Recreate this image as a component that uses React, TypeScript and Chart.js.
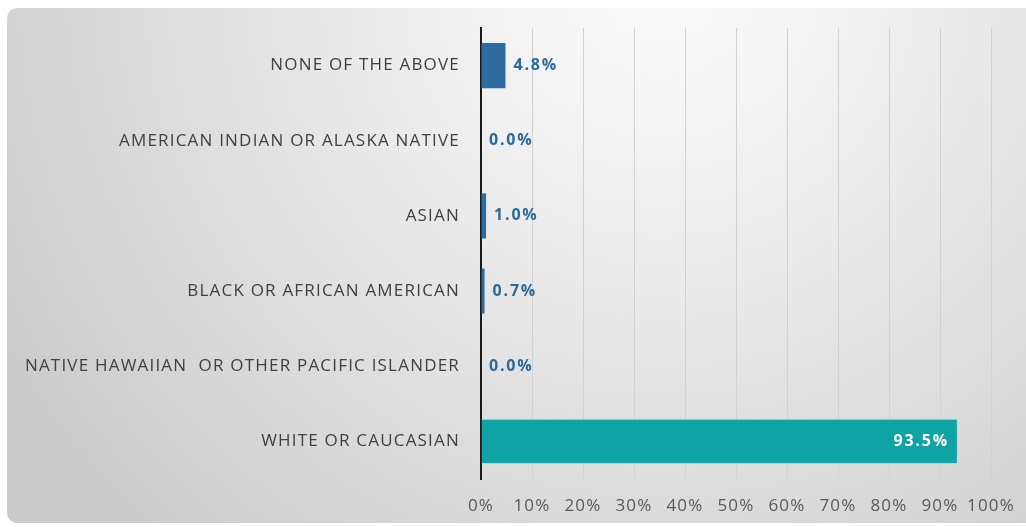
import React, { useEffect, useRef } from "react";
import { Chart, registerables } from "chart.js";

Chart.register(...registerables);

const categories = [
  "NONE OF THE ABOVE",
  "AMERICAN INDIAN OR ALASKA NATIVE",
  "ASIAN",
  "BLACK OR AFRICAN AMERICAN",
  "NATIVE HAWAIIAN  OR OTHER PACIFIC ISLANDER",
  "WHITE OR CAUCASIAN",
];
const percentages = [4.8, 0.0, 1.0, 0.7, 0.0, 93.5];
const barColors = ["#2e6c9f", "#2e6c9f", "#2e6c9f", "#2e6c9f", "#2e6c9f", "#0ea3a5"];
const tickValues = [0, 10, 20, 30, 40, 50, 60, 70, 80, 90, 100];

const FONT = "'Open Sans', Lato, sans-serif";

const spacingPlugin = {
  id: "spacing",
  beforeLayout(chart: any) {
    chart.ctx.letterSpacing = "1.2px";
  },
  beforeDraw(chart: any) {
    chart.ctx.letterSpacing = "1.2px";
  },
};

const backgroundPlugin = {
  id: "bgPanel",
  beforeDraw(chart: any) {
    const { ctx } = chart;
    const x = 7, y = 8, w = 1040, h = 515, r = 12;
    ctx.save();
    const g = ctx.createRadialGradient(660, -20, 20, 660, -20, 760);
    g.addColorStop(0, "#fafafa");
    g.addColorStop(0.35, "#ececec");
    g.addColorStop(1, "#cbcbcb");
    ctx.fillStyle = g;
    ctx.beginPath();
    ctx.moveTo(x + r, y);
    ctx.lineTo(x + w, y);
    ctx.lineTo(x + w, y + h);
    ctx.lineTo(x + r, y + h);
    ctx.quadraticCurveTo(x, y + h, x, y + h - r);
    ctx.lineTo(x, y + r);
    ctx.quadraticCurveTo(x, y, x + r, y);
    ctx.closePath();
    ctx.fill();
    ctx.restore();
  },
};

const labelPlugin = {
  id: "valueLabels",
  afterDatasetsDraw(chart: any) {
    const { ctx } = chart;
    const meta = chart.getDatasetMeta(0);
    const data = chart.data.datasets[0].data as number[];
    ctx.save();
    ctx.letterSpacing = "1.8px";
    ctx.font = "bold 16px " + FONT;
    ctx.textBaseline = "middle";
    meta.data.forEach((bar: any, i: number) => {
      const v = data[i];
      const text = v.toFixed(1) + "%";
      if (v > 50) {
        ctx.fillStyle = "#ffffff";
        ctx.textAlign = "right";
        ctx.fillText(text, bar.x - 9, bar.y);
      } else {
        ctx.fillStyle = "#2b6a99";
        ctx.textAlign = "left";
        ctx.fillText(text, Math.max(bar.x, bar.base) + 8, bar.y);
      }
    });
    ctx.restore();
  },
};

export default function App() {
  const ref = useRef<HTMLCanvasElement | null>(null);

  useEffect(() => {
    if (!ref.current) return;
    const chart = new Chart(ref.current, {
      type: "bar",
      data: {
        labels: categories,
        datasets: [
          {
            data: percentages,
            backgroundColor: barColors,
            borderColor: barColors.map((c, i) => (percentages[i] > 50 ? "#9fdede" : c)),
            borderWidth: barColors.map((c, i) => (percentages[i] > 50 ? 1 : 0)),
            barPercentage: 0.6,
            categoryPercentage: 1,
          },
        ],
      },
      options: {
        indexAxis: "y",
        animation: false,
        responsive: false,
        maintainAspectRatio: false,
        layout: { padding: { left: 0, right: 35, top: 28, bottom: 0 } },
        plugins: {
          legend: { display: false },
          tooltip: { enabled: false },
        },
        scales: {
          x: {
            min: 0,
            max: 100,
            afterBuildTicks(scale: any) {
              scale.ticks = tickValues.map((v) => ({ value: v }));
            },
            afterFit(scale: any) {
              scale.height = 48;
              scale.paddingLeft = 0;
              scale.paddingRight = 0;
            },
            grid: {
              color: "#d2d2d2",
              lineWidth: 1,
              drawTicks: false,
            },
            border: { display: false },
            ticks: {
              padding: 17,
              autoSkip: false,
              maxRotation: 0,
              minRotation: 0,
              color: "#595959",
              font: { family: FONT, size: 17 },
              callback: (v: any) => v + "%",
            },
          },
          y: {
            afterFit(scale: any) {
              scale.width = 481;
              scale.paddingTop = 0;
              scale.paddingBottom = 0;
            },
            grid: { display: false, drawTicks: false },
            border: { display: true, color: "#1a1a1a", width: 2 },
            ticks: {
              padding: 21,
              color: "#404040",
              font: { family: FONT, size: 17 },
            },
          },
        },
      },
      plugins: [spacingPlugin, backgroundPlugin, labelPlugin],
    });
    return () => chart.destroy();
  }, []);

  return (
    <div style={{ position: "fixed", left: 0, top: 0, width: 1026, height: 527, background: "#ffffff" }}>
      <canvas ref={ref} width={1026} height={527} style={{ display: "block" }} />
    </div>
  );
}
